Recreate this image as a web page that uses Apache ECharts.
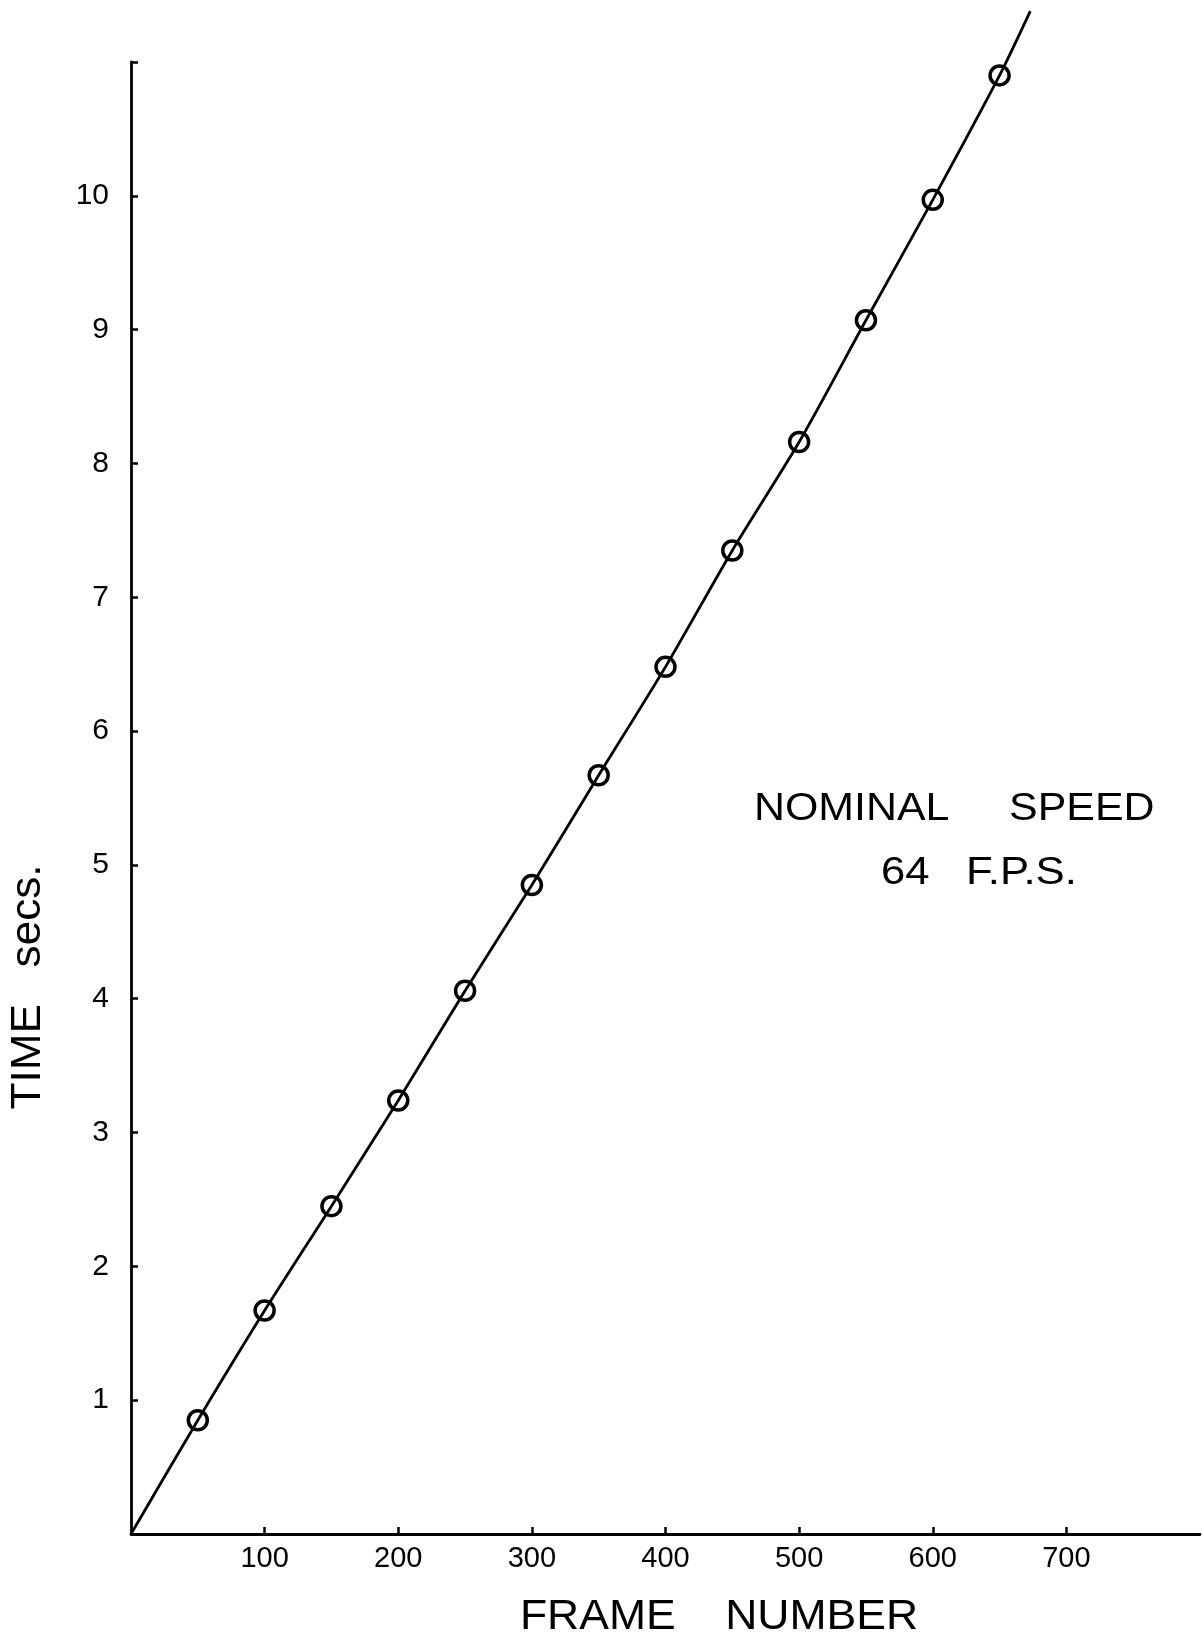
<!DOCTYPE html>
<html>
<head>
<meta charset="utf-8">
<script src="https://cdn.jsdelivr.net/npm/echarts@6/dist/echarts.min.js"></script>
<style>
  html, body { margin: 0; padding: 0; background: #fff; }
  #chart { width: 1202px; height: 1635px; }
</style>
</head>
<body>
<div id="chart"></div>
<script>
// measured points (frame number, time in secs)
var frames = [50, 100, 150, 200, 250, 300, 350, 400, 450, 500, 550, 600, 650];
var times = [0.85, 1.67, 2.45, 3.24, 4.06, 4.85, 5.67, 6.48, 7.35, 8.16, 9.07, 9.97, 10.9];
// hand drawn curve: starts at origin, runs past the last point
var curveStart = [0, 0];
var curveEnd = [673, 11.38];
var xTicks = [100, 200, 300, 400, 500, 600, 700];
var xLabels = [100, 200, 300, 400, 500, 600, 700];
var yTicks = [1, 2, 3, 4, 5, 6, 7, 8, 9, 10, 11];
var yLabels = [1, 2, 3, 4, 5, 6, 7, 8, 9, 10];

var font = "'Liberation Sans', Arial, sans-serif";
var ink = "#000";

var points = frames.map(function (f, i) { return [f, times[i]]; });
var curve = [curveStart].concat(points, [curveEnd]);

var myChart = echarts.init(document.getElementById("chart"));
var option = {
  animation: false,
  backgroundColor: "#fff",
  grid: { left: 131, right: 2, top: 62, bottom: 101 },
  xAxis: {
    type: "value",
    min: 0,
    max: 800,
    axisLine: { lineStyle: { color: ink, width: 2.8 } },
    axisTick: { inside: true, length: 7, customValues: xTicks, lineStyle: { color: ink, width: 2.5 } },
    axisLabel: { customValues: xLabels, color: ink, fontSize: 29, fontFamily: font, margin: 10 },
    splitLine: { show: false }
  },
  yAxis: {
    type: "value",
    min: 0,
    max: 11,
    axisLine: { lineStyle: { color: ink, width: 2.8 } },
    axisTick: { inside: true, length: 7, customValues: yTicks, lineStyle: { color: ink, width: 2.5 } },
    axisLabel: { customValues: yLabels, color: ink, fontSize: 30, fontFamily: font, margin: 22 },
    splitLine: { show: false }
  },
  graphic: [
    {
      type: "text",
      x: 28,
      y: 987,
      rotation: Math.PI / 2,
      scaleX: 1.05,
      style: {
        text: "TIME   secs.",
        fontSize: 42,
        fontFamily: font,
        fill: ink,
        align: "center",
        verticalAlign: "middle"
      }
    },
    {
      type: "text",
      x: 719,
      y: 1617,
      scaleX: 1.06,
      style: {
        text: "FRAME    NUMBER",
        fontSize: 42,
        fontFamily: font,
        fill: ink,
        align: "center",
        verticalAlign: "middle"
      }
    },
    {
      type: "text",
      x: 754,
      y: 809,
      scaleX: 1.1,
      style: {
        text: "NOMINAL     SPEED",
        fontSize: 39,
        fontFamily: font,
        fill: ink,
        align: "left",
        verticalAlign: "middle"
      }
    },
    {
      type: "text",
      x: 881,
      y: 873,
      scaleX: 1.12,
      style: {
        text: "64   F.P.S.",
        fontSize: 39,
        fontFamily: font,
        fill: ink,
        align: "left",
        verticalAlign: "middle"
      }
    }
  ],
  series: [
    {
      type: "line",
      data: curve,
      smooth: 0.25,
      clip: false,
      symbol: "none",
      lineStyle: { color: ink, width: 2.8 },
      z: 2
    },
    {
      type: "scatter",
      data: points,
      symbol: "circle",
      symbolSize: 19,
      itemStyle: { color: "rgba(0,0,0,0)", borderColor: ink, borderWidth: 3.5, opacity: 1 },
      z: 3
    }
  ]
};
myChart.setOption(option);
</script>
</body>
</html>
